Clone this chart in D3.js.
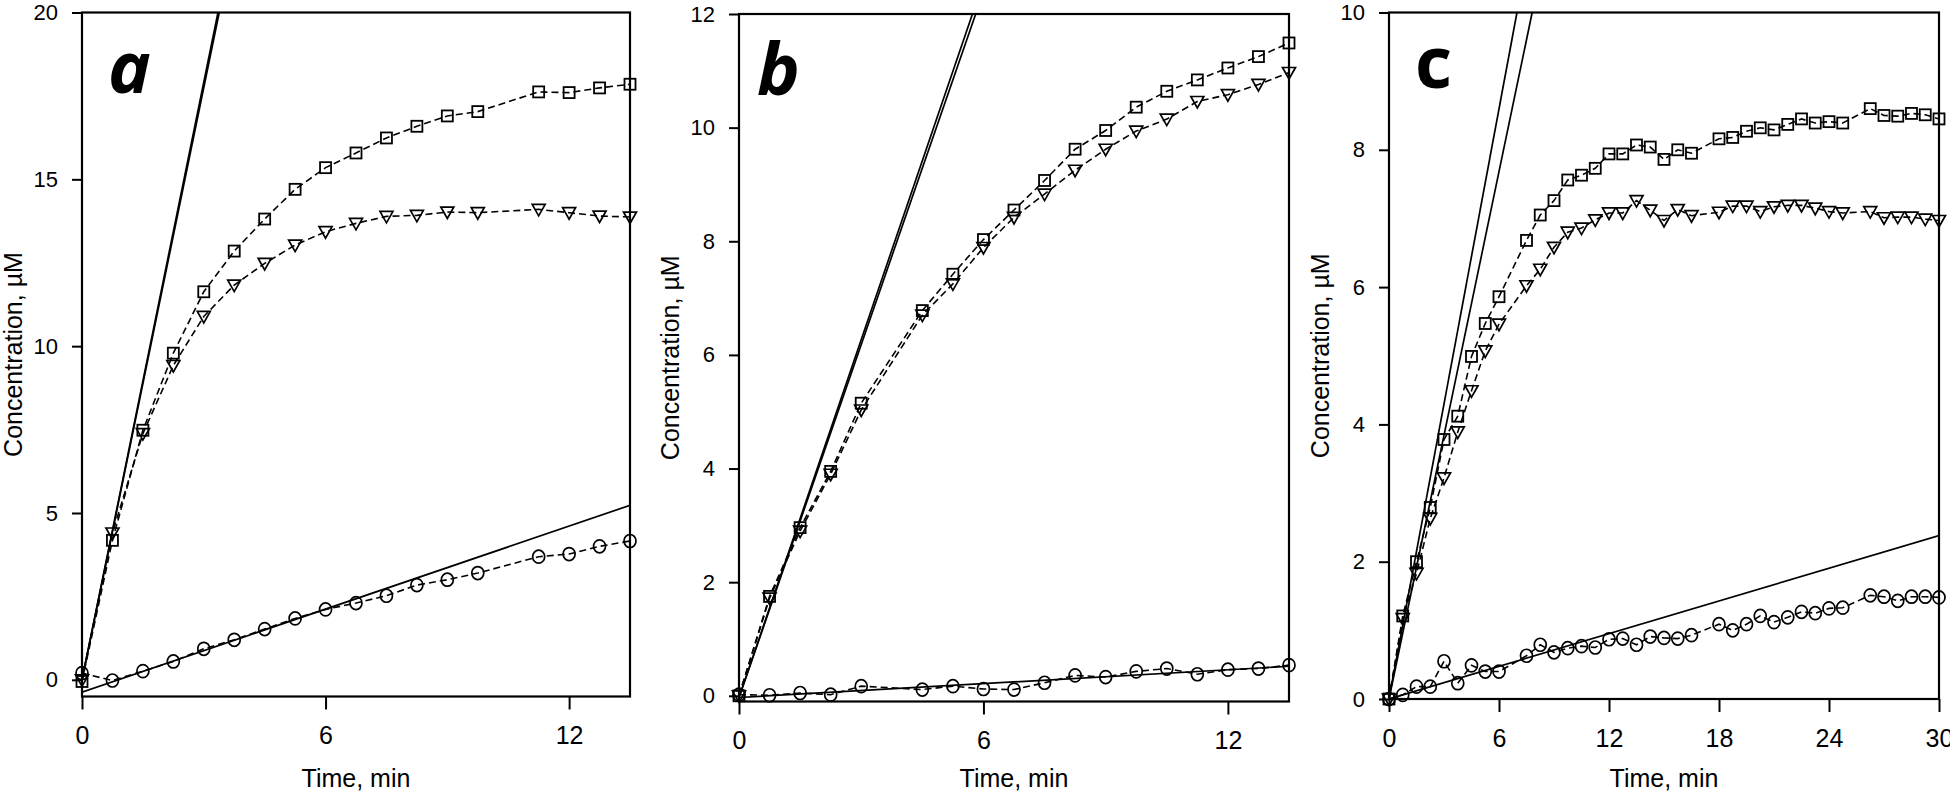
<!DOCTYPE html>
<html><head><meta charset="utf-8">
<script src="https://cdn.jsdelivr.net/npm/d3@7"></script>
<style>
body{margin:0;background:#fff}
svg text{font-family:"Liberation Sans",Arial,sans-serif;fill:#000}
</style>
</head><body>
<svg id="chart" width="1950" height="795"></svg>
<script>
// ---------------- Panel a ----------------
const aTime = [0, 0.75, 1.5, 2.25, 3, 3.75, 4.5, 5.25, 6, 6.75, 7.5, 8.25, 9, 9.75, 11.25, 12, 12.75, 13.5];
const aSquares = [-0.05, 4.18, 7.48, 9.79, 11.63, 12.85, 13.81, 14.70, 15.35, 15.79, 16.24, 16.59, 16.90, 17.03, 17.62, 17.60, 17.74, 17.85];
const aTriangles = [0, 4.4, 7.38, 9.42, 10.89, 11.83, 12.48, 13.03, 13.43, 13.68, 13.89, 13.92, 14.02, 14.0, 14.1, 14.0, 13.9, 13.87];
const aCircles = [0.2, -0.02, 0.26, 0.55, 0.93, 1.2, 1.52, 1.84, 2.11, 2.3, 2.52, 2.84, 3.0, 3.2, 3.69, 3.77, 4.0, 4.16];
const aFits = [[[0, 0], [3.35, 20]], [[0, 0], [3.38, 20]], [[0, -0.37], [13.5, 5.23]]];
const aXTicks = [0, 6, 12];
const aYTicks = [0, 5, 10, 15, 20];

// ---------------- Panel b ----------------
const bTime = [0, 0.75, 1.5, 2.25, 3, 4.5, 5.25, 6, 6.75, 7.5, 8.25, 9, 9.75, 10.5, 11.25, 12, 12.75, 13.5];
const bSquares = [0, 1.75, 2.96, 3.95, 5.15, 6.78, 7.42, 8.03, 8.55, 9.07, 9.62, 9.95, 10.36, 10.64, 10.84, 11.05, 11.25, 11.49];
const bTriangles = [0, 1.72, 2.9, 3.9, 5.03, 6.70, 7.25, 7.89, 8.42, 8.83, 9.25, 9.62, 9.94, 10.15, 10.46, 10.58, 10.76, 10.97];
const bCircles = [0.02, 0.01, 0.05, 0.02, 0.17, 0.11, 0.17, 0.12, 0.11, 0.23, 0.36, 0.33, 0.43, 0.48, 0.38, 0.46, 0.48, 0.54];
const bFits = [[[0, -0.03], [5.73, 12]], [[0, -0.03], [5.81, 12]], [[0, -0.03], [13.5, 0.52]]];
const bXTicks = [0, 6, 12];
const bYTicks = [0, 2, 4, 6, 8, 10, 12];

// ---------------- Panel c ----------------
const cTime = [0, 0.75, 1.5, 2.25, 3, 3.75, 4.5, 5.25, 6, 7.5, 8.25, 9, 9.75, 10.5, 11.25, 12, 12.75, 13.5, 14.25, 15, 15.75, 16.5,
  18, 18.75, 19.5, 20.25, 21, 21.75, 22.5, 23.25, 24, 24.75, 26.25, 27, 27.75, 28.5, 29.25, 30];
const cSquares = [0, 1.21, 2.0, 2.79, 3.78, 4.12, 4.99, 5.47, 5.86, 6.68, 7.05, 7.26, 7.56, 7.63, 7.73, 7.94, 7.94, 8.07, 8.04, 7.86, 8.0, 7.95,
  8.16, 8.18, 8.27, 8.32, 8.29, 8.37, 8.45, 8.39, 8.41, 8.39, 8.6, 8.5, 8.49, 8.53, 8.51, 8.45];
const cTriangles = [0, 1.17, 1.83, 2.63, 3.22, 3.89, 4.49, 5.07, 5.46, 6.02, 6.26, 6.58, 6.8, 6.86, 6.98, 7.08, 7.08, 7.26, 7.12, 6.97, 7.13, 7.04,
  7.09, 7.18, 7.18, 7.1, 7.17, 7.19, 7.19, 7.15, 7.1, 7.08, 7.1, 7.01, 7.02, 7.02, 6.99, 6.97];
const cCircles = [0, 0.06, 0.18, 0.18, 0.55, 0.23, 0.49, 0.4, 0.4, 0.63, 0.79, 0.68, 0.74, 0.77, 0.75, 0.87, 0.88, 0.79, 0.91, 0.89, 0.88, 0.93,
  1.09, 1.0, 1.09, 1.21, 1.12, 1.19, 1.27, 1.25, 1.32, 1.33, 1.51, 1.49, 1.43, 1.49, 1.49, 1.48];
const cFits = [[[0, 0], [6.98, 10]], [[0, 0], [7.81, 10]], [[0, 0], [30, 2.38]]];
const cXTicks = [0, 6, 12, 18, 24, 30];
const cYTicks = [0, 2, 4, 6, 8, 10];

const xTitle = "Time, min";
const yTitle = "Concentration, \u00B5M";

const svg = d3.select("#chart");

function drawPanel(cfg, idx) {
  const x = d3.scaleLinear().domain(cfg.xDomain).range([cfg.left, cfg.right]);
  const y = d3.scaleLinear().domain(cfg.yDomain).range([cfg.bottom, cfg.top]);
  const g = svg.append("g");
  const clipId = "clip" + idx;
  svg.append("clipPath").attr("id", clipId).append("rect")
    .attr("x", cfg.left).attr("y", cfg.top)
    .attr("width", cfg.right - cfg.left).attr("height", cfg.bottom - cfg.top);

  // axes
  const yAxis = d3.axisLeft(y).tickValues(cfg.yTicks).tickSize(10).tickPadding(14).tickFormat(d3.format("d"));
  const gy = g.append("g").attr("transform", `translate(${cfg.left},0)`).call(yAxis);
  gy.select(".domain").remove();
  gy.selectAll("line").attr("stroke-width", 2);
  gy.selectAll("text").attr("font-size", 22).attr("font-family", "Liberation Sans, Arial, sans-serif");

  const xAxis = d3.axisBottom(x).tickValues(cfg.xTicks).tickSize(13).tickPadding(17).tickFormat(d3.format("d"));
  const gx = g.append("g").attr("transform", `translate(0,${cfg.bottom})`).call(xAxis);
  gx.select(".domain").remove();
  gx.selectAll("line").attr("stroke-width", 2);
  gx.selectAll("text").attr("font-size", 25).attr("font-family", "Liberation Sans, Arial, sans-serif");

  // frame
  g.append("rect").attr("x", cfg.left).attr("y", cfg.top)
    .attr("width", cfg.right - cfg.left).attr("height", cfg.bottom - cfg.top)
    .attr("fill", "none").attr("stroke", "#000").attr("stroke-width", 2.2);

  // fit lines
  const fitLine = d3.line().x(d => x(d[0])).y(d => y(d[1]));
  g.append("g").attr("clip-path", `url(#${clipId})`)
    .selectAll("path").data(cfg.fits).join("path")
    .attr("d", fitLine).attr("fill", "none").attr("stroke", "#000").attr("stroke-width", 1.7);

  // series
  const series = [
    {vals: cfg.squares, shape: "square"},
    {vals: cfg.triangles, shape: "triangle"},
    {vals: cfg.circles, shape: "circle"}
  ];
  const dashLine = d3.line().x(d => x(d[0])).y(d => y(d[1]));
  series.forEach(s => {
    const pts = cfg.time.map((t, i) => [t, s.vals[i]]);
    g.append("path").attr("d", dashLine(pts)).attr("fill", "none")
      .attr("stroke", "#000").attr("stroke-width", 1.6).attr("stroke-dasharray", "7,4");
    const mg = g.append("g");
    pts.forEach(p => {
      const px = x(p[0]), py = y(p[1]);
      if (s.shape === "square") {
        mg.append("rect").attr("x", px - 5.5).attr("y", py - 5.5).attr("width", 11).attr("height", 11)
          .attr("fill", "none").attr("stroke", "#000").attr("stroke-width", 1.8);
      } else if (s.shape === "triangle") {
        mg.append("path").attr("d", `M${px - 6.5},${py - 5}L${px + 6.5},${py - 5}L${px},${py + 6.5}Z`)
          .attr("fill", "none").attr("stroke", "#000").attr("stroke-width", 1.7);
      } else {
        mg.append("ellipse").attr("cx", px).attr("cy", py).attr("rx", 6).attr("ry", 6.5)
          .attr("fill", "none").attr("stroke", "#000").attr("stroke-width", 1.7);
      }
    });
  });

  // titles
  g.append("text").attr("x", (cfg.left + cfg.right) / 2).attr("y", 787)
    .attr("text-anchor", "middle").attr("font-size", 25).text(xTitle);
  g.append("text")
    .attr("transform", `translate(${cfg.left - 60},${(cfg.top + cfg.bottom) / 2}) rotate(-90)`)
    .attr("text-anchor", "middle").attr("font-size", 25).text(yTitle);

  // panel letter
  g.append("text").attr("x", cfg.left + cfg.letterDx).attr("y", cfg.letterY)
    .attr("font-weight", 700)
    .attr("font-style", cfg.letterItalic ? "italic" : "normal")
    .attr("font-size", 72).style("font-family", "'Open Sans', sans-serif").text(cfg.letter);
}

const panels = [
  {left: 82, right: 630, top: 12.5, bottom: 696.5, xDomain: [0, 13.5], yDomain: [-0.5, 20],
   time: aTime, squares: aSquares, triangles: aTriangles, circles: aCircles, fits: aFits,
   xTicks: aXTicks, yTicks: aYTicks, letter: "a", letterItalic: true, letterDx: 26, letterY: 93},
  {left: 739, right: 1289, top: 14, bottom: 701.5, xDomain: [0, 13.5], yDomain: [-0.1, 12],
   time: bTime, squares: bSquares, triangles: bTriangles, circles: bCircles, fits: bFits,
   xTicks: bXTicks, yTicks: bYTicks, letter: "b", letterItalic: true, letterDx: 18, letterY: 95},
  {left: 1389, right: 1939, top: 12.5, bottom: 699, xDomain: [0, 30], yDomain: [0, 10],
   time: cTime, squares: cSquares, triangles: cTriangles, circles: cCircles, fits: cFits,
   xTicks: cXTicks, yTicks: cYTicks, letter: "c", letterItalic: false, letterDx: 26, letterY: 88}
];
panels.forEach((p, i) => drawPanel(p, i));
</script>
</body></html>
